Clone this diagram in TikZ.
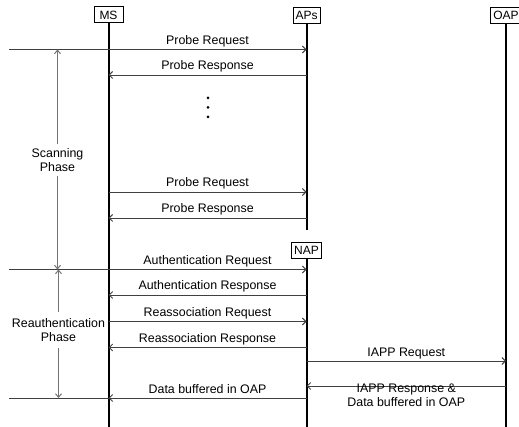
\documentclass[tikz,border=0pt]{standalone}
\usepackage{fontspec}
\setmainfont{Liberation Sans}
\usetikzlibrary{arrows.meta}
\tikzset{
  ent/.style={draw,line width=1pt,inner xsep=2.5pt,inner ysep=0pt,minimum height=16pt,font=\fontsize{12}{12}\selectfont},
  life/.style={line width=2pt},
  wire/.style={line width=0.9pt,black!75},
  msg/.style={wire,-{Straight Barb[length=3.5pt,width=7pt]}},
  lbl/.style={anchor=base,yshift=5pt,text=black,inner sep=0pt,font=\fontsize{12.4}{14}\selectfont},
  phtxt/.style={align=center,inner xsep=0pt,inner ysep=4.5pt,font=\fontsize{12.4}{14}\selectfont},
  phase/.style={line width=1pt,black!55,-{Straight Barb[length=3.5pt,width=6pt]}},
}
\begin{document}
\begin{tikzpicture}[x=1pt,y=-1pt]
  \useasboundingbox (0,0) rectangle (519,427);
  % Instanzen
  \node[ent,minimum width=29pt] (ms) at (108.5,15) {MS};
  \node[ent] (aps) at (306.5,15.5) {APs};
  \node[ent] (oap) at (506,15.5) {OAP};
  \node[ent] (nap) at (306.5,250.5) {NAP};
  \draw[life] (ms) -- (ms |- 0,427);
  \draw[life] (aps) -- (aps |- 0,230);
  \draw[life] (nap) -- (nap |- 0,427);
  \draw[life] (oap) -- (oap |- 0,427);
  % linke Enden
  \coordinate (top) at (9,49.5);
  \coordinate (mid) at (9,269.5);
  \coordinate (bot) at (9,398);
  \draw[wire] (top) -- (ms |- top);
  \draw[wire] (mid) -- (ms |- mid);
  \draw[wire] (bot) -- (ms |- bot);
  % Nachrichten
  \foreach \y/\t in {49.5/Probe Request,192/Probe Request}
    \draw[msg] (ms |- 0,\y) -- node[lbl] {\t} (aps |- 0,\y);
  \foreach \y/\t in {75/Probe Response,218/Probe Response}
    \draw[msg] (aps |- 0,\y) -- node[lbl] {\t} (ms |- 0,\y);
  \foreach \y/\t in {269.5/Authentication Request,321.5/Reassociation Request}
    \draw[msg] (ms |- 0,\y) -- node[lbl] {\t} (nap |- 0,\y);
  \foreach \y/\t in {295/Authentication Response,347.5/Reassociation Response,398/Data buffered in OAP}
    \draw[msg] (nap |- 0,\y) -- node[lbl] {\t} (ms |- 0,\y);
  \draw[msg] (nap |- 0,361) -- node[lbl] {IAPP Request} (oap |- 0,361);
  \draw[msg] (oap |- 0,386) -- node[lbl,anchor=north,yshift=-2.5pt,align=center] {IAPP Response \&\\Data buffered in OAP} (nap |- 0,386);
  \foreach \y in {98,107.5,117} \fill (208,\y) circle (1.5pt);
  % Phasen
  \node[phtxt] (scan) at (57.5,160) {Scanning\\Phase};
  \node[phtxt,inner ysep=6pt] (reauth) at (58.5,330) {Reauthentication\\Phase};
  \draw[phase] (scan) -- (scan |- top);
  \draw[phase] (scan) -- (scan |- mid);
  \draw[phase] (reauth) -- (reauth |- mid);
  \draw[phase] (reauth) -- (reauth |- bot);
\end{tikzpicture}
\end{document}
